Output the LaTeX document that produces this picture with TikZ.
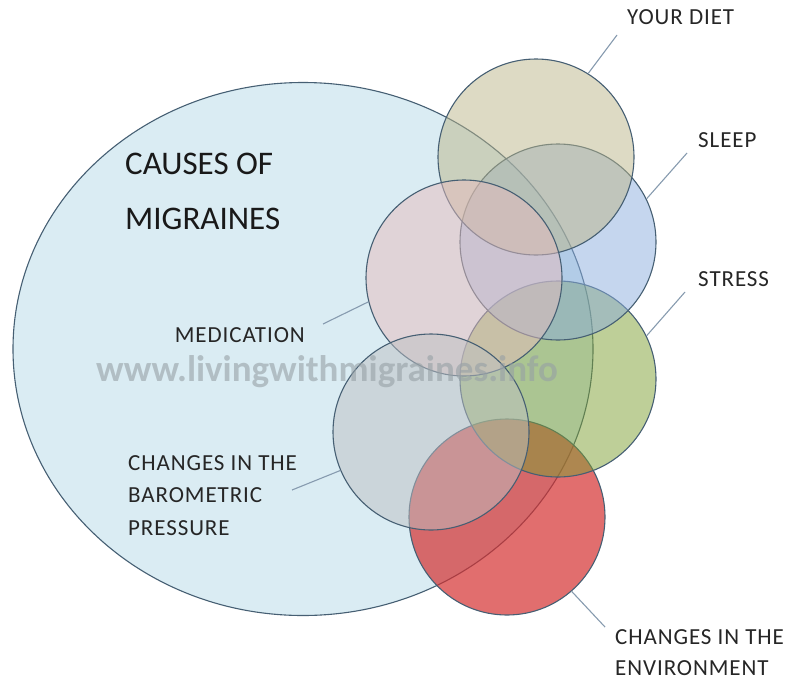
\documentclass[tikz,border=0pt]{standalone}
\usepackage{fontspec}
\setmainfont{Carlito}
\newfontfamily\labelfont[LetterSpace=4]{Carlito}
\definecolor{ellipseblue}{RGB}{218,236,243}
\definecolor{rimblue}{RGB}{70,95,115}
\definecolor{leadgray}{RGB}{135,155,175}
\definecolor{dietcol}{RGB}{187,181,137}
\definecolor{sleepcol}{RGB}{139,173,221}
\definecolor{medcol}{RGB}{230,188,189}
\definecolor{stresscol}{RGB}{125,160,50}
\definecolor{barocol}{RGB}{190,192,195}
\definecolor{envcol}{RGB}{212,48,48}
\definecolor{markgray}{RGB}{150,160,165}
\usetikzlibrary{shapes.geometric,positioning}

\begin{document}
\begin{tikzpicture}[x=1pt, y=-1pt,
    cause/.style={circle, draw=rimblue, line width=1.1pt, minimum size=196pt, inner sep=0pt, fill opacity=0.5},
    lead/.style={draw=leadgray, line width=1.1pt},
    tag/.style={font=\labelfont\fontsize{23}{33}\selectfont, text=black!85, inner sep=0pt, align=left}]
    \useasboundingbox (0,0) rectangle (787,683);

    % Big ellipse
    \node[ellipse, draw=rimblue, line width=1.1pt, fill=ellipseblue, minimum width=580pt, minimum height=533pt, inner sep=0pt] (all) at (303,349) {};

    % Overlapping circles
    \node[cause, fill=envcol, fill opacity=0.7] (env) at (507,517) {};
    \node[cause, fill=stresscol] (stress) at (558,379) {};
    \node[cause, fill=sleepcol] (sleep) at (558,242) {};
    \node[cause, fill=dietcol] (diet) at (536,157) {};
    \node[cause, fill=medcol] (med) at (464,278) {};
    \node[cause, fill=barocol] (baro) at (431,432) {};

    % Title
    \node[font=\fontsize{33}{55}\selectfont, text=black!90, inner sep=0pt, align=left, anchor=base west] (title) at (125,229) {CAUSES OF\\MIGRAINES};

    % Labels
    \node[tag, anchor=base west] (diettag) at (627,24.4) {YOUR DIET};
    \node[tag, anchor=base west] (sleeptag) at (698,147.4) {SLEEP};
    \node[tag, anchor=base west] (stresstag) at (698,286.4) {STRESS};
    \node[tag, anchor=base east] (medtag) at (305,342.4) {MEDICATION};
    \node[tag, anchor=base west, font=\labelfont\fontsize{23}{32.5}\selectfont] (barotag) at (128,535.4) {CHANGES IN THE\\BAROMETRIC\\PRESSURE};
    \node[tag, anchor=base west, font=\labelfont\fontsize{23}{31}\selectfont] (envtag) at (615,675) {CHANGES IN THE\\ENVIRONMENT};

    % Leader lines
    \coordinate (dietend) at (617,35);
    \coordinate (sleepend) at (687,153);
    \coordinate (stressend) at (685,292);
    \coordinate (medend) at (323,324);
    \coordinate (baroend) at (292,490);
    \coordinate (envend) at (605,627);
    \draw[lead] (diet.58) -- (dietend);
    \draw[lead] (sleep.26) -- (sleepend);
    \draw[lead] (stress.26) -- (stressend);
    \draw[lead] (med.194) -- (medend);
    \draw[lead] (baro.203) -- (baroend);
    \draw[lead] (env.-49) -- (envend);

    % Watermark
    \node[font=\bfseries\fontsize{37}{37}\selectfont, text=markgray, text opacity=0.6, inner sep=0pt, anchor=base] (mark) at (327,381) {www.livingwithmigraines.info};
\end{tikzpicture}
\end{document}
